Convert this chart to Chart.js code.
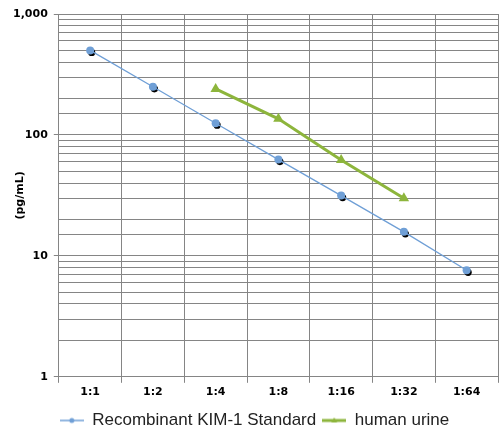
<!DOCTYPE html>
<html>
<head>
<meta charset="utf-8">
<script src="https://cdn.jsdelivr.net/npm/chart.js@4/dist/chart.umd.min.js"></script>
<style>
  html, body { margin: 0; padding: 0; background: #fff; }
  #wrap { width: 504px; height: 441px; }
</style>
</head>
<body>
<div id="wrap"><canvas id="kimChart"></canvas></div>
<script>
// dilution steps
var dilutions = ["1:1", "1:2", "1:4", "1:8", "1:16", "1:32", "1:64"];
// pg/mL
var standardValues = [500, 250, 125, 62.5, 31.5, 15.8, 7.6];
var urineValues = [null, null, 240, 136, 62, 30, null];
var yTickLabels = [1, 10, 100, 1000];
var yTitle = "(pg/mL)";

var blue = "#6f9fd6";
var green = "#8db53c";

function legendMark(color, dot) {
  var c = document.createElement("canvas");
  c.width = 24;
  c.height = 10;
  var g = c.getContext("2d");
  g.strokeStyle = color;
  g.lineWidth = dot ? 1.5 : 3;
  g.beginPath();
  g.moveTo(0, 5);
  g.lineTo(24, 5);
  g.stroke();
  g.fillStyle = color;
  if (dot) {
    g.beginPath();
    g.arc(12, 5, 2.5, 0, Math.PI * 2);
    g.fill();
  } else {
    g.beginPath();
    g.moveTo(9, 7);
    g.lineTo(15, 7);
    g.lineTo(12, 2);
    g.fill();
  }
  return c;
}

// little black shadow under the standard points
var shadowPlugin = {
  id: "pointShadow",
  beforeDatasetDraw: function (chart, args) {
    if (args.index !== 0) return;
    var g = chart.ctx;
    g.save();
    g.fillStyle = "#000";
    args.meta.data.forEach(function (pt) {
      g.beginPath();
      g.arc(pt.x + 1.5, pt.y + 2, 3.6, 0, Math.PI * 2);
      g.fill();
    });
    g.restore();
  }
};

// rotated y title, placed like the original
var yTitlePlugin = {
  id: "yTitle",
  afterDraw: function (chart) {
    var area = chart.chartArea;
    var g = chart.ctx;
    g.save();
    g.translate(20, (area.top + area.bottom) / 2);
    g.rotate(-Math.PI / 2);
    g.font = "bold 11px 'DejaVu Sans', Verdana, sans-serif";
    g.fillStyle = "#000";
    g.textAlign = "center";
    g.textBaseline = "middle";
    g.fillText(yTitle, 0, 0);
    g.restore();
  }
};

var ctx = document.getElementById("kimChart").getContext("2d");
Chart.defaults.font.family = "'DejaVu Sans', Verdana, sans-serif";
Chart.defaults.color = "#000";

var chart = new Chart(ctx, {
  type: "line",
  data: {
    labels: dilutions,
    datasets: [
      {
        label: "Recombinant KIM-1 Standard",
        data: standardValues,
        borderColor: blue,
        backgroundColor: blue,
        borderWidth: 1.3,
        pointRadius: 4,
        pointHoverRadius: 4,
        pointBorderWidth: 0,
        tension: 0,
      },
      {
        label: "human urine",
        data: urineValues,
        borderColor: green,
        backgroundColor: green,
        borderWidth: 3,
        pointStyle: "triangle",
        pointRadius: 6,
        pointHoverRadius: 6,
        pointBorderWidth: 0,
        tension: 0,
      },
    ],
  },
  plugins: [shadowPlugin, yTitlePlugin],
  options: {
    responsive: true,
    maintainAspectRatio: false,
    animation: false,
    layout: { padding: { left: 7, right: 2, top: 14, bottom: 2 } },
    plugins: {
      tooltip: { enabled: false },
      legend: {
        position: "bottom",
        labels: {
          usePointStyle: true,
          pointStyleWidth: 24,
          boxHeight: 10,
          padding: 6,
          color: "#222",
          font: { family: "'Liberation Sans', Arial, sans-serif", size: 17 },
          generateLabels: function (ch) {
            return ch.data.datasets.map(function (ds, i) {
              return {
                text: ds.label,
                pointStyle: legendMark(ds.borderColor, i === 0),
                fillStyle: ds.borderColor,
                strokeStyle: ds.borderColor,
                lineWidth: 0,
                datasetIndex: i,
                fontColor: "#222",
              };
            });
          },
        },
      },
    },
    scales: {
      x: {
        offset: true,
        grid: {
          offset: true,
          color: "#858585",
          tickColor: "#858585",
          tickLength: 6,
        },
        border: { color: "#858585" },
        ticks: {
          font: { size: 11, weight: "bold" },
          padding: 3,
        },
        afterFit: function (scale) {
          scale.height += 4;
        },
      },
      y: {
        type: "logarithmic",
        min: 1,
        max: 1000,
        grid: {
          color: "#858585",
          tickColor: function (c) {
            return yTickLabels.indexOf(c.tick.value) >= 0 ? "#858585" : "rgba(0,0,0,0)";
          },
          tickLength: 5,
        },
        border: { color: "#858585" },
        ticks: {
          autoSkip: false,
          font: { size: 11, weight: "bold" },
          padding: 6,
          callback: function (v) {
            return yTickLabels.indexOf(v) >= 0 ? v.toLocaleString("en-US") : "";
          },
        },
      },
    },
  },
});
</script>
</body>
</html>
